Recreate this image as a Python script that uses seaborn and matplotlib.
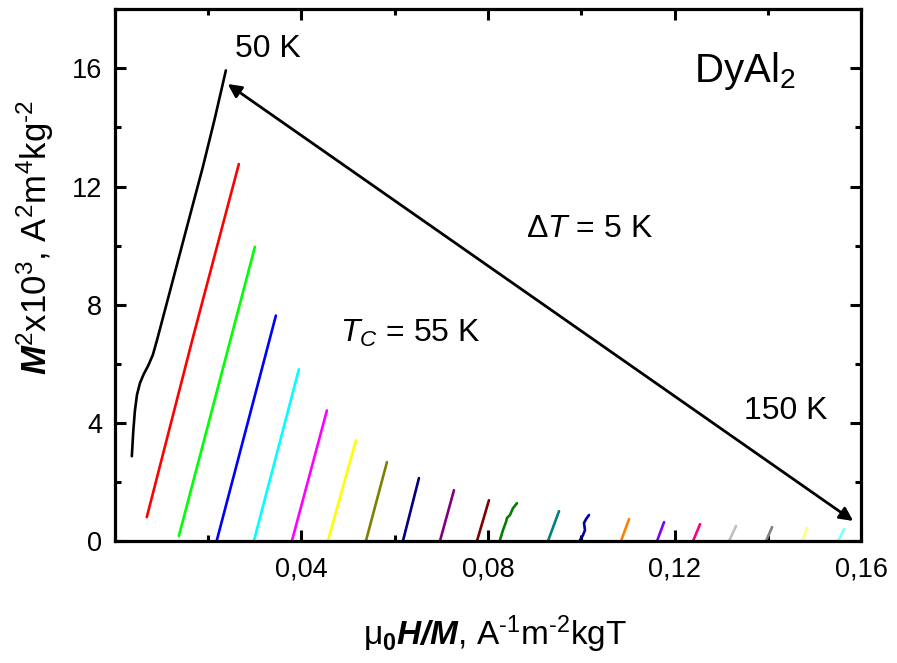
import matplotlib
matplotlib.use("Agg")
import matplotlib.pyplot as plt
import seaborn as sns
import pandas as pd
from matplotlib.ticker import FixedLocator, FixedFormatter, MultipleLocator

# ---------------- data ----------------
temperatures = [50, 55, 60, 65, 70, 75, 80, 85, 90, 95, 100,
                105, 110, 115, 120, 125, 130, 135, 140, 145, 150]

curve_x = [
    [0.00365, 0.00395, 0.00430, 0.00475, 0.00540, 0.00620, 0.00720, 0.00815,
     0.00901, 0.01223, 0.01544, 0.01887, 0.02140, 0.02381],
    [0.00686, 0.01660, 0.02659],
    [0.01373, 0.03003],
    [0.02188, 0.03453],
    [0.02981, 0.03946],
    [0.03796, 0.04547],
    [0.04568, 0.05169],
    [0.05383, 0.05834],
    [0.06177, 0.06520],
    [0.06971, 0.07271],
    [0.07764, 0.08021],
    [0.08257, 0.08322, 0.08386, 0.08408, 0.08472, 0.08536, 0.08622],
    [0.09287, 0.09523],
    [0.09973, 0.10038, 0.10080, 0.10059, 0.10102, 0.10166],
    [0.10853, 0.11024],
    [0.11625, 0.11775],
    [0.12397, 0.12547],
    [0.13169, 0.13319],
    [0.13962, 0.14091],
    [0.14735, 0.14842],
    [0.15507, 0.15635],
]
curve_y = [
    [2.87, 3.70, 4.40, 4.95, 5.35, 5.65, 5.95, 6.30,
     6.78, 8.70, 10.62, 12.66, 14.28, 15.93],
    [0.81, 6.80, 12.76],
    [0.17, 9.96],
    [0.03, 7.63],
    [0.00, 5.81],
    [0.00, 4.42],
    [0.00, 3.41],
    [0.00, 2.67],
    [0.00, 2.13],
    [0.00, 1.72],
    [0.00, 1.38],
    [0.03, 0.37, 0.64, 0.78, 0.88, 1.11, 1.28],
    [0.00, 1.01],
    [0.03, 0.20, 0.37, 0.61, 0.74, 0.88],
    [0.00, 0.74],
    [0.00, 0.64],
    [0.00, 0.57],
    [0.00, 0.51],
    [0.00, 0.47],
    [0.00, 0.44],
    [0.00, 0.40],
]
curve_colors = ["#000000", "#FF0000", "#00FF00", "#0000FF", "#00FFFF", "#FF00FF",
                "#FFFF00", "#808000", "#000080", "#800080", "#800000", "#008000",
                "#008080", "#0000A0", "#FF8000", "#8000FF", "#FF0080", "#C0C0C0",
                "#808080", "#FFFF80", "#80FFFF"]

xticks = [0.04, 0.08, 0.12, 0.16]
xtick_labels = ["0,04", "0,08", "0,12", "0,16"]
yticks = [0, 4, 8, 12, 16]
ytick_labels = ["0", "4", "8", "12", "16"]

# ---------------- build table ----------------
rows = []
for T, xs, ys in zip(temperatures, curve_x, curve_y):
    for i, (xv, yv) in enumerate(zip(xs, ys)):
        rows.append({"T": T, "x": xv, "y": yv, "order": i})
df = pd.DataFrame(rows)

# ---------------- style ----------------
sns.set_theme(style="white")
plt.rcParams["font.family"] = ["Liberation Sans", "DejaVu Sans"]
plt.rcParams["mathtext.fontset"] = "custom"
plt.rcParams["mathtext.rm"] = "Liberation Sans"
plt.rcParams["mathtext.it"] = "Liberation Sans:italic"
plt.rcParams["mathtext.bf"] = "Liberation Sans:bold"
plt.rcParams["mathtext.bfit"] = "Liberation Sans:italic:bold"
plt.rcParams["mathtext.sf"] = "Liberation Sans"
plt.rcParams["text.color"] = "black"
plt.rcParams["axes.labelcolor"] = "black"
plt.rcParams["xtick.color"] = "black"
plt.rcParams["ytick.color"] = "black"

fig = plt.figure(figsize=(8.97, 6.63), dpi=100)
ax = fig.add_axes([0.128, 0.184, 0.832, 0.802])

sns.lineplot(data=df, x="x", y="y", hue="T", palette=curve_colors,
             sort=False, estimator=None, legend=False, linewidth=1.9, ax=ax)

ax.set_xlim(0.0, 0.16)
ax.set_ylim(0, 18)

ax.xaxis.set_major_locator(FixedLocator(xticks))
ax.xaxis.set_major_formatter(FixedFormatter(xtick_labels))
ax.xaxis.set_minor_locator(MultipleLocator(0.02))
ax.yaxis.set_major_locator(FixedLocator(yticks))
ax.yaxis.set_major_formatter(FixedFormatter(ytick_labels))
ax.yaxis.set_minor_locator(MultipleLocator(2))

ax.tick_params(which="both", direction="in", top=True, right=True,
               bottom=True, left=True, width=2.2, colors="black")
ax.tick_params(which="major", length=8, labelsize=19.5)
ax.tick_params(axis="x", which="major", pad=11)
ax.tick_params(axis="y", which="major", pad=9)
ax.tick_params(which="minor", length=4.5)
for s in ax.spines.values():
    s.set_linewidth(2.3)
    s.set_color("black")

ax.set_xlabel("μ$_\\mathbf{0}$$\\mathbfit{H/M}$, A$^{\\text{-}1}$m$^{\\text{-}2}$kgT",
              fontsize=24)
ax.xaxis.set_label_coords(0.51, -0.137)
ax.set_ylabel("$\\mathbfit{M}^2$x10$^3$, A$^2$m$^4$kg$^{\\text{-}2}$",
              fontsize=25)
ax.yaxis.set_label_coords(-0.079, 0.57)

# arrow between 50 K and 150 K ends
ax.annotate("", xy=(0.0242, 15.47), xytext=(0.1583, 0.68),
            arrowprops=dict(arrowstyle="<|-|>", lw=2.0, color="black",
                            mutation_scale=20, shrinkA=0, shrinkB=0))

ax.text(0.0328, 16.65, "50 K", fontsize=23, ha="center", va="center")
ax.text(0.1439, 4.39, "150 K", fontsize=23, ha="center", va="center")
ax.text(0.1350, 15.90, "DyAl$_2$", fontsize=29, ha="center", va="center")
ax.text(0.1017, 10.57, "Δ$\\mathit{T}$ = 5 K", fontsize=23, ha="center", va="center")
ax.text(0.0633, 7.03, "$\\mathit{T_C}$ = 55 K", fontsize=23, ha="center", va="center")

fig.savefig("out.png", dpi=100)
